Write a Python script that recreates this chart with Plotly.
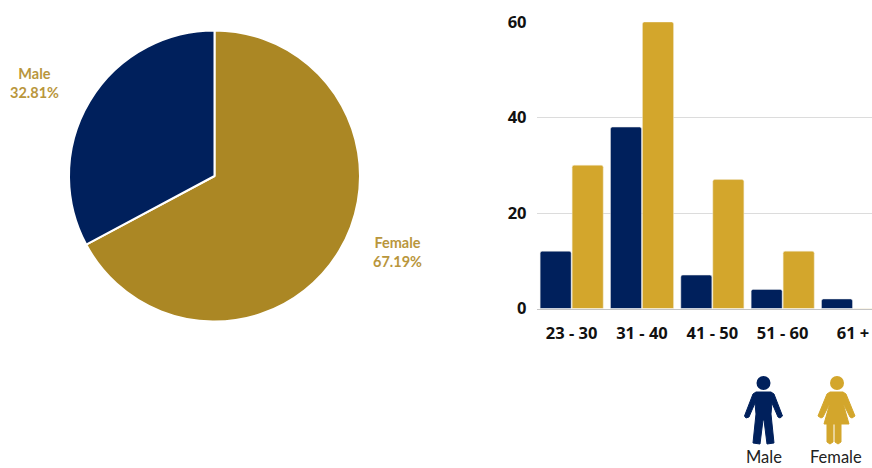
import plotly.graph_objects as go

W, H = 872, 468

gender_labels = ["Female", "Male"]
gender_values = [129, 63]
gender_text = ["67.19%", "32.81%"]
age_groups = ["23 - 30", "31 - 40", "41 - 50", "51 - 60", "61 +"]
male_counts = [12, 38, 7, 4, 2]
female_counts = [30, 60, 27, 12, 0]
y_ticks = [0, 20, 40, 60]

NAVY = "#00205c"
PIE_GOLD = "#ab8724"
BAR_GOLD = "#d3a62c"
LABEL_GOLD = "#b9963c"


def px(x):
    return x / W


def py(y):
    return 1 - y / H


def icon_path(points):
    return "M " + " L ".join(f"{px(x):.5f},{py(y):.5f}" for x, y in points) + " Z"


def circle(cx, cy, r, color):
    return dict(type="circle", xref="paper", yref="paper", x0=px(cx - r), x1=px(cx + r),
                y0=py(cy + r), y1=py(cy - r), fillcolor=color, line=dict(width=0), layer="above")


male_body = [(756, 392), (771, 392), (774, 394), (782.5, 416), (780, 418), (778, 417), (772, 403),
             (771, 414), (774, 443), (767, 444), (764, 420), (763, 420), (760, 444), (753, 443),
             (756, 414), (755, 403), (749, 417), (746, 418), (744.5, 416), (753, 394)]
female_body = [(830, 392), (843, 392), (846, 394), (855, 416), (852, 418), (850, 417), (843, 403),
               (849, 424), (841, 424), (841, 442), (838, 444), (835, 442), (835, 424), (833, 424),
               (833, 442), (830, 444), (827, 442), (827, 424), (824, 424), (830, 403), (823, 417),
               (821, 418), (818, 416), (827, 394)]

fig = go.Figure()
fig.add_trace(go.Pie(
    labels=gender_labels, values=gender_values, sort=False, direction="clockwise", rotation=0,
    marker=dict(colors=[PIE_GOLD, NAVY], line=dict(color="white", width=2)),
    textinfo="none", showlegend=False, hoverinfo="skip",
    domain=dict(x=[px(69), px(360)], y=[py(321.5), py(30.5)]),
))
fig.add_trace(go.Bar(x=age_groups, y=male_counts, name="Male", marker=dict(color=NAVY, line=dict(color="#e8e8e8", width=0.5))))
fig.add_trace(go.Bar(x=age_groups, y=female_counts, name="Female", marker=dict(color=BAR_GOLD, line=dict(color="#f0e6c8", width=0.5))))

annotations = []
for name, pct, x, y in [(gender_labels[1], gender_text[1], 34, 83), (gender_labels[0], gender_text[0], 397, 252)]:
    annotations.append(dict(text=f"<b>{name}<br>{pct}</b>", x=px(x), y=py(y), xref="paper", yref="paper",
                            showarrow=False, xanchor="center", yanchor="middle",
                            font=dict(family="Lato", size=14.5, color=LABEL_GOLD), align="center"))
for name, x in [("Male", 764), ("Female", 836)]:
    annotations.append(dict(text=name, x=px(x), y=0, xref="paper", yref="paper", showarrow=False,
                            xanchor="center", yanchor="bottom", borderpad=0,
                            font=dict(family="Lato", size=16.5, color="#222222")))

fig.update_layout(
    width=W, height=H, margin=dict(l=0, r=0, t=0, b=0, autoexpand=False), paper_bgcolor="white", plot_bgcolor="white",
    showlegend=False, barmode="group", bargap=0.09, bargroupgap=0.03, barcornerradius=2,
    annotations=annotations,
    xaxis=dict(domain=[px(536.5), 1], range=[-0.5, 4.27], showgrid=False, showline=True, linecolor="#c4c4c4",
               linewidth=1, ticks="", ticklabelstandoff=10, tickangle=0, automargin=False,
               tickfont=dict(family="Open Sans", size=16.5, color="#111111", weight="bold"), anchor="y"),
    yaxis=dict(domain=[py(308.5), py(22)], range=[0, 60], tickvals=y_ticks, gridcolor="#dcdcdc", gridwidth=1,
               zeroline=False, ticks="", ticklabelstandoff=9, automargin=False,
               tickfont=dict(family="Open Sans", size=16.5, color="#111111", weight="bold"), anchor="x"),
    shapes=[
        circle(763.5, 383, 7, NAVY),
        dict(type="path", xref="paper", yref="paper", path=icon_path(male_body), fillcolor=NAVY, line=dict(color=NAVY, width=1), layer="above"),
        circle(837, 383, 7, BAR_GOLD),
        dict(type="path", xref="paper", yref="paper", path=icon_path(female_body), fillcolor=BAR_GOLD, line=dict(color=BAR_GOLD, width=1), layer="above"),
    ],
)
fig.write_html("out.html", config={"displayModeBar": False}, default_width="872px", default_height="468px",
               post_script="document.documentElement.style.overflow='hidden';document.body.style.margin='0';")
